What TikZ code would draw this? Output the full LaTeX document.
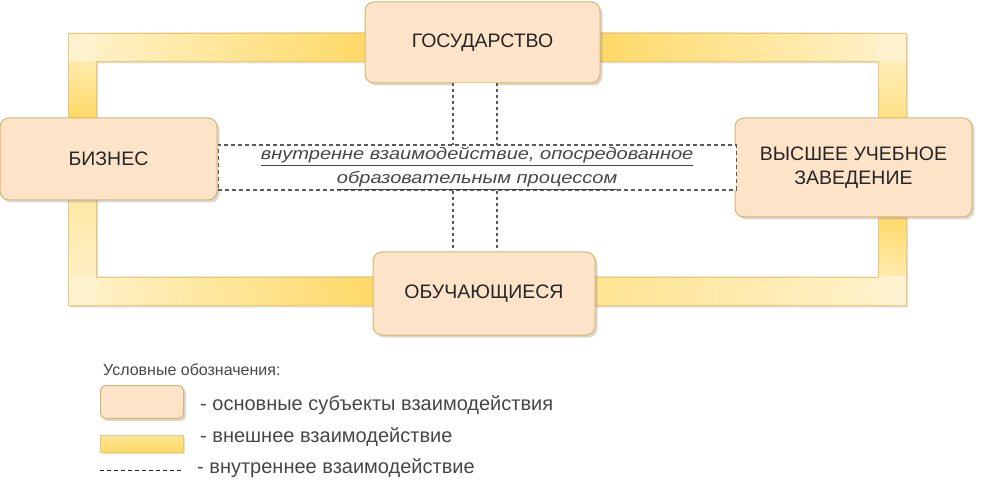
\documentclass[tikz,border=0pt]{standalone}
\usepackage{fontspec}
\setmainfont{Liberation Sans}
\newfontfamily\widefont[FakeStretch=1.2]{Liberation Sans}
\usetikzlibrary{shadows}
\definecolor{peach}{HTML}{FDE3C8}
\definecolor{peachb}{HTML}{D9B46E}
\definecolor{gold}{HTML}{FFD966}
\definecolor{pale}{HTML}{FFF3CF}
\definecolor{bandb}{HTML}{E8C87A}
\definecolor{txt}{HTML}{262626}
\definecolor{dashc}{HTML}{5A5A5A}
\begin{document}
\begin{tikzpicture}[x=1pt,y=-1pt,
  subj/.style={draw=peachb, line width=1pt, fill=peach, rounded corners=9pt,
    drop shadow={shadow xshift=2.5pt,shadow yshift=-2.5pt,opacity=0.3},
    text=txt, font=\fontsize{19.5}{24}\selectfont, align=center, inner sep=0pt},
  bandfill/.style={fill=pale, drop shadow={shadow xshift=2pt,shadow yshift=-2.5pt,opacity=0.25}},
  bandline/.style={draw=bandb, line width=0.8pt},
  dashln/.style={draw=dashc, line width=1.3pt, dash pattern=on 3pt off 3pt},
  legtext/.style={anchor=west, text=txt!85!white, font=\fontsize{20}{22}\selectfont, inner sep=0pt}
]
\useasboundingbox (0,0) rectangle (991,497);

% subject box centres
\path (482.5,42.5) coordinate (cgov);
\path (108.5,159) coordinate (cbiz);
\path (853.5,167.5) coordinate (cvuz);
\path (484,293.5) coordinate (cobu);

% ---------- external interaction bands ----------
% biz -> gov
\path[bandfill] (68,118) -- (68,33) -- (370,33) -- (370,61) -- (96,61) -- (96,118) -- cycle;
\shade[top color=pale, bottom color=gold] (68,33) rectangle (96,118);
\shade[left color=pale, right color=gold] (68,33) rectangle (370,61);
\fill[pale] (68,33) rectangle (96,61);
\draw[bandline] (68,118) -- (68,33) -- (370,33);
\draw[bandline] (96,118) -- (96,61) -- (370,61);
% gov -> vuz
\path[bandfill] (595,33) -- (906,33) -- (906,120) -- (878,120) -- (878,61) -- (595,61) -- cycle;
\shade[left color=gold, right color=pale] (595,33) rectangle (906,61);
\shade[top color=pale, bottom color=gold!70!pale] (878,33) rectangle (906,120);
\fill[pale] (878,33) rectangle (906,61);
\draw[bandline] (595,33) -- (906,33) -- (906,120);
\draw[bandline] (595,61) -- (878,61) -- (878,120);
% vuz -> obu
\path[bandfill] (878,215) -- (906,215) -- (906,305) -- (590,305) -- (590,277) -- (878,277) -- cycle;
\shade[top color=gold, bottom color=pale] (878,215) rectangle (906,305);
\shade[left color=gold!60!pale, right color=pale] (590,277) rectangle (906,305);
\fill[pale] (878,277) rectangle (906,305);
\draw[bandline] (906,215) -- (906,305) -- (590,305);
\draw[bandline] (878,215) -- (878,277) -- (590,277);
% biz -> obu
\path[bandfill] (68,198) -- (96,198) -- (96,277) -- (378,277) -- (378,305) -- (68,305) -- cycle;
\shade[top color=pale!60!gold, bottom color=pale] (68,198) rectangle (96,305);
\shade[left color=pale, right color=gold] (68,277) rectangle (378,305);
\fill[pale] (68,277) rectangle (96,305);
\draw[bandline] (68,198) -- (68,305) -- (378,305);
\draw[bandline] (96,198) -- (96,277) -- (378,277);

% ---------- subjects ----------
\node[subj, minimum width=235pt, minimum height=81pt] (gov) at (cgov) {ГОСУДАРСТВО};
\node[subj, minimum width=217pt, minimum height=82pt] (biz) at (cbiz) {БИЗНЕС};
\node[subj, minimum width=237pt, minimum height=99pt] (vuz) at (cvuz) {ВЫСШЕЕ УЧЕБНОЕ\\ЗАВЕДЕНИЕ};
\node[subj, minimum width=222pt, minimum height=83pt] (obu) at (cobu) {ОБУЧАЮЩИЕСЯ};

% ---------- internal interaction ----------
\coordinate (vl1) at ([xshift=-29.5pt]gov.south);
\coordinate (vr1) at ([xshift=14.5pt]gov.south);
\fill[white] (vl1) rectangle (vr1 |- obu.north);
\draw[dashln] (vl1) -- (vl1 |- obu.north);
\draw[dashln] (vr1) -- (vr1 |- obu.north);

\node[draw=dashc, line width=1.3pt, dash pattern=on 4pt off 3pt, fill=white,
  minimum height=45pt, inner sep=0pt, anchor=west,
  minimum width=518pt] (inner) at ([yshift=-8.5pt]biz.east) {};
\node[text=txt!85!white, font=\widefont\fontsize{16.7}{24}\selectfont\itshape, align=center, inner sep=0pt]
  (innertxt) at ([yshift=-1pt]inner.center) {\underline{внутренне взаимодействие, опосредованное}\\\underline{образовательным процессом}};

% ---------- legend ----------
\node[anchor=west, text=txt!85!white, font=\fontsize{16}{18}\selectfont, inner sep=0pt] (legtitle) at (103,370) {Условные обозначения:};
\node[subj, rounded corners=5pt, minimum width=83pt, minimum height=33pt, anchor=north west] (lgbox) at (100,385) {};
\node[legtext] (lgboxt) at (200,405) {- основные субъекты взаимодействия};
\node[draw=bandb, line width=0.8pt, top color=gold!60!pale, bottom color=gold,
  drop shadow={shadow xshift=2pt,shadow yshift=-2pt,opacity=0.25},
  minimum width=83pt, minimum height=17pt, inner sep=0pt, anchor=north west] (lgbar) at (100,435) {};
\node[legtext] (lgbart) at (200,437) {- внешнее взаимодействие};
\coordinate (lgd1) at (100,470);
\coordinate (lgd2) at (183,470);
\draw[draw=txt, line width=1pt, dash pattern=on 4pt off 3pt] (lgd1) -- (lgd2);
\node[legtext] (lgdt) at (197,468) {- внутреннее взаимодействие};
\end{tikzpicture}
\end{document}
